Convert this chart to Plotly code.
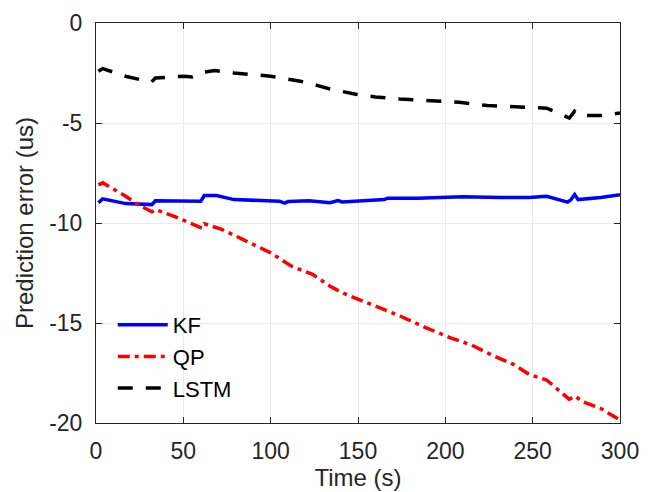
import plotly.graph_objects as go

# ---- data ----
kf_t = [1.4, 3.8, 17, 32, 34, 57.5, 60, 62, 69, 79, 105, 108, 110, 122, 134, 138.5, 141,
        165, 167, 184, 210, 231.6, 248, 258, 270, 272, 274, 276, 289, 300]
kf_v = [-8.99, -8.79, -9.03, -9.08, -8.89, -8.89, -8.91, -8.63, -8.63, -8.83, -8.91, -9.01,
        -8.93, -8.89, -8.99, -8.88, -8.95, -8.83, -8.76, -8.76, -8.69, -8.73, -8.73, -8.66,
        -8.96, -8.83, -8.58, -8.83, -8.73, -8.59]

qp_t = [1.4, 3.8, 17, 24, 32, 34, 45.5, 59, 60.6, 62, 72, 84, 100, 107.5, 112, 124, 134,
        141, 155, 165, 174, 189, 203, 215, 227, 239, 248, 258, 265, 271, 274, 279, 289, 300]
qp_v = [-8.09, -7.99, -8.66, -9.08, -9.44, -9.33, -9.69, -10.16, -10.26, -10.04, -10.32,
        -10.82, -11.49, -11.91, -12.16, -12.57, -13.16, -13.49, -13.99, -14.35, -14.65,
        -15.24, -15.74, -16.10, -16.62, -17.07, -17.57, -17.85, -18.40, -18.82, -18.65,
        -18.95, -19.28, -19.85]

lstm_t = [1.4, 3.8, 17, 30, 31.7, 34, 50.3, 55, 62, 68, 79, 100, 117, 127, 134, 148, 160,
          174, 191, 208, 224, 241, 258, 262, 271, 274, 277, 289, 300]
lstm_v = [-2.41, -2.28, -2.66, -2.91, -2.96, -2.75, -2.66, -2.70, -2.46, -2.38, -2.50,
          -2.66, -2.91, -3.13, -3.30, -3.55, -3.70, -3.80, -3.88, -3.96, -4.13, -4.20,
          -4.26, -4.41, -4.75, -4.41, -4.63, -4.63, -4.50]

x_ticks = [0, 50, 100, 150, 200, 250, 300]
x_labels = ["0", "50", "100", "150", "200", "250", "300"]
y_ticks = [0, -5, -10, -15, -20]
y_labels = ["0", "-5", "-10", "-15", "-20"]

FONT = "Liberation Sans, Arial, sans-serif"
AX = "#262626"

fig = go.Figure()
fig.add_trace(go.Scatter(x=kf_t, y=kf_v, mode="lines", name="KF",
                         line=dict(color="#0000FF", width=3.5)))
fig.add_trace(go.Scatter(x=qp_t, y=qp_v, mode="lines", name="QP",
                         line=dict(color="#FF0000", width=3.5, dash="12px,5px,4px,5px")))
fig.add_trace(go.Scatter(x=lstm_t, y=lstm_v, mode="lines", name="LSTM",
                         line=dict(color="#000000", width=3.5, dash="15px,13px")))

axis_common = dict(
    showline=True, linecolor=AX, linewidth=1, mirror="ticks",
    ticks="inside", ticklen=6, tickcolor=AX, tickwidth=1,
    showgrid=True, gridcolor="#ebebeb", gridwidth=1, automargin=False,
    zeroline=False, tickfont=dict(family=FONT, size=23, color=AX),
)

fig.update_layout(
    width=654, height=492,
    margin=dict(l=96, r=34, t=23, b=69),
    paper_bgcolor="white", plot_bgcolor="white",
    font=dict(family=FONT, size=23, color=AX),
    xaxis=dict(range=[0, 300], tickvals=x_ticks, ticktext=x_labels,
               title=dict(text="Time (s)", font=dict(family=FONT, size=24, color=AX), standoff=6),
               ticklabelstandoff=7, **axis_common),
    yaxis=dict(range=[-20, 0], tickvals=y_ticks, ticktext=y_labels,
               title=dict(text="Prediction error (us)", font=dict(family=FONT, size=24, color=AX), standoff=8),
               ticklabelstandoff=8, **axis_common),
    showlegend=True,
    legend=dict(x=0.032, y=0.2975, xanchor="left", yanchor="top",
                bgcolor="rgba(0,0,0,0)", borderwidth=0,
                font=dict(family=FONT, size=22, color="#000000"),
                itemwidth=50, tracegroupgap=0),
)

fig.write_html("out.html")
